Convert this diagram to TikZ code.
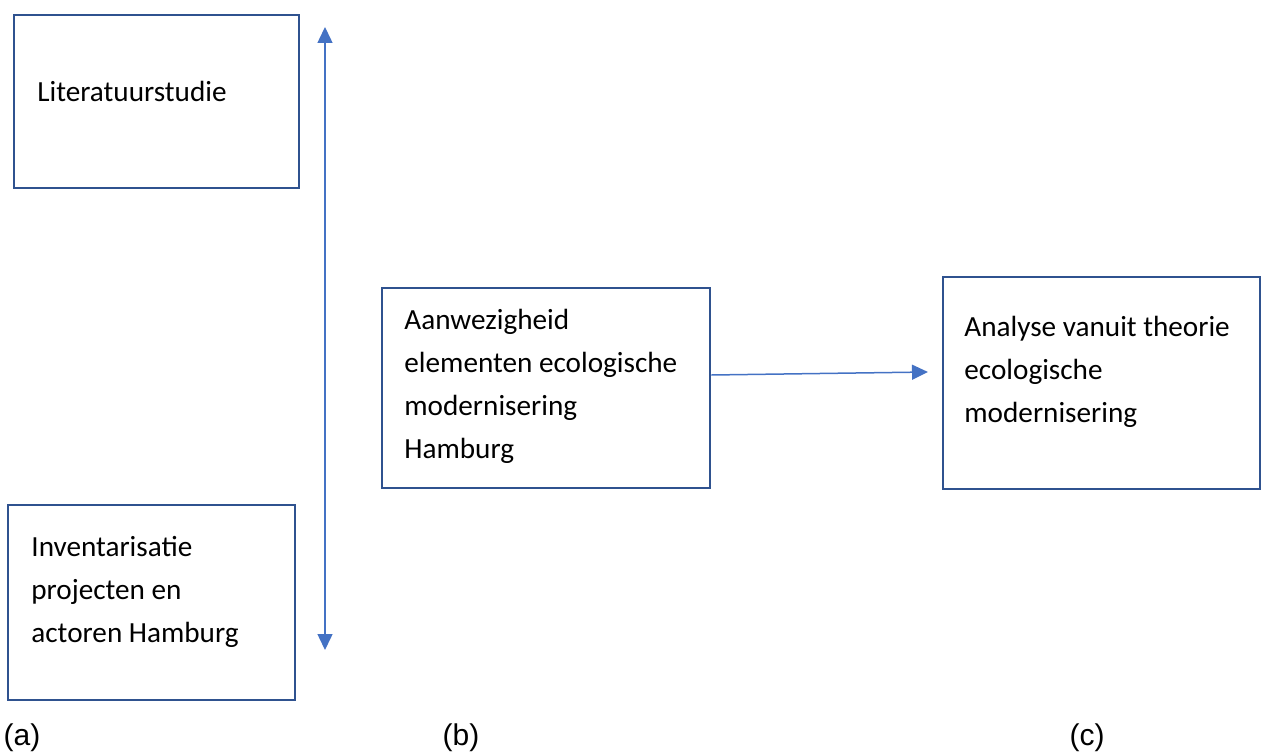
\documentclass[tikz,border=0pt]{standalone}
\usepackage{fontspec}
\setmainfont{Carlito}
\newfontfamily\labelfont{Liberation Sans}
\usetikzlibrary{arrows.meta}
\definecolor{boxblue}{HTML}{2F528F}
\definecolor{arrowblue}{HTML}{4472C4}
\begin{document}
\begin{tikzpicture}[x=0.5pt, y=-0.5pt,
		stepbox/.style={draw=boxblue, line width=1.4pt, rectangle, inner sep=0pt},
		boxtext/.style={anchor=west, align=left, inner sep=0pt, font=\fontsize{14.6}{21.5}\selectfont},
		sublabel/.style={inner sep=0pt, font=\labelfont\fontsize{15}{18}\selectfont},
		link/.style={draw=arrowblue, line width=0.75pt, -{Triangle[width=7.5pt,length=8pt]}}]
			\useasboundingbox (0,0) rectangle (1262,754);

			% Boxes
			\node[stepbox, minimum width=142.5pt, minimum height=86.5pt] (lit) at (156.5, 101.5) {};
			\node[stepbox, minimum width=143.5pt, minimum height=97.5pt] (inv) at (151.5, 602.5) {};
			\node[stepbox, minimum width=164pt, minimum height=100pt] (aanw) at (546, 388) {};
			\node[stepbox, minimum width=158.5pt, minimum height=106pt] (anal) at (1101.5, 383) {};

			% Texts in the boxes
			\node[boxtext] (littext) at (37, 91) {Literatuurstudie};
			\node[boxtext] (invtext) at (31, 592) {Inventarisatie\\projecten en\\actoren Hamburg};
			\node[boxtext] (aanwtext) at (404, 386) {Aanwezigheid\\elementen ecologische\\modernisering\\Hamburg};
			\node[boxtext] (analtext) at (964, 372) {Analyse vanuit theorie\\ecologische\\modernisering};

			% Sub labels
			\node[sublabel] (la) at (22, 738) {(a)};
			\node[sublabel] (lb) at (461, 738) {(b)};
			\node[sublabel] (lc) at (1087, 738) {(c)};

			% Arrows
			\coordinate (vtop) at (325, 27);
			\coordinate (vbot) at (325, 650);
			\draw[link, {Triangle[width=7.5pt,length=8pt]}-{Triangle[width=7.5pt,length=8pt]}] (vtop) -- (vbot);
			\coordinate (hstart) at (aanw.east |- 0, 375);
			\coordinate (hend) at (928, 372);
			\draw[link] (hstart) -- (hend);
		\end{tikzpicture}
\end{document}
